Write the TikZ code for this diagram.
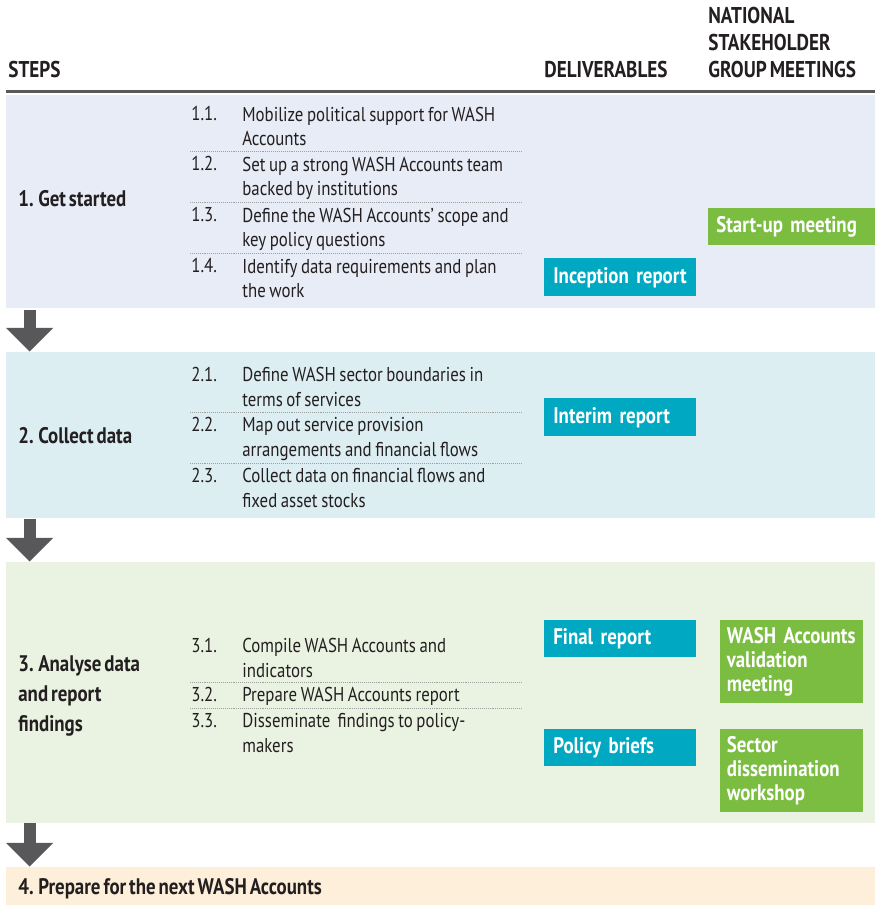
\documentclass[tikz,border=0pt]{standalone}
\usepackage{fontspec}
\setmainfont[FakeStretch=0.84, WordSpace=0.8, BoldFeatures={WordSpace=0.62}]{PT Sans}
\usepackage{xcolor}
\usetikzlibrary{arrows.meta, positioning, fit}

\definecolor{inkgray}{HTML}{231F20}
\definecolor{bandone}{HTML}{E8ECF6}
\definecolor{bandtwo}{HTML}{DDEEF2}
\definecolor{bandthree}{HTML}{EAF3E2}
\definecolor{bandfour}{HTML}{FDEFD9}
\definecolor{tealbox}{HTML}{00A9C1}
\definecolor{greenbox}{HTML}{7ABD40}
\definecolor{arrowgray}{HTML}{58585A}

\begin{document}
\begin{tikzpicture}[
  x=0.2mm, y=-0.2mm,
  font=\fontsize{11.4}{14.2}\selectfont,
  text=inkgray,
  band/.style   = {inner sep=0pt, draw=none},
  head/.style   = {anchor=base west, inner sep=0pt, align=left,
                   font=\fontsize{13}{15.4}\selectfont\bfseries},
  phase/.style  = {anchor=base west, inner sep=0pt, align=left,
                   font=\fontsize{12.8}{16.8}\selectfont\bfseries},
  num/.style    = {anchor=base west, inner sep=0pt},
  task/.style   = {anchor=base west, inner sep=0pt, align=left},
  deliv/.style  = {anchor=north west, fill=tealbox, text=white,
                   font=\fontsize{12.8}{13.7}\selectfont\bfseries,
                   inner xsep=1.8mm, inner ysep=0pt, align=left,
                   text width=26.8mm, minimum height=7.6mm},
  meet/.style   = {deliv, fill=greenbox},
  sep/.style    = {gray!75, line width=0.45pt, dash pattern=on 0.5pt off 0.6pt},
  down/.style   = {-{Triangle[width=26pt, length=13.5pt]}, line width=6.8pt,
                   arrowgray}
]
\useasboundingbox (0,0) rectangle (875,905);

% ---------- header ----------
% (base of a multi-line node = its last line)
\node[head] (hsteps) at (8,78)   {STEPS};
\node[head] (hdeliv) at (544,78) {DELIVERABLES};
\node[head] (hnsg)   at (708,78) {NATIONAL\\STAKEHOLDER\\GROUP MEETINGS};
\draw[black!65, line width=0.6mm] (6,92) -- (875,92);

% ---------- bands ----------
\node[band, fill=bandone,   fit={(6,95)(875,308)}]  (band1) {};
\node[band, fill=bandtwo,   fit={(6,352)(875,518)}] (band2) {};
\node[band, fill=bandthree, fit={(6,562)(875,823)}] (band3) {};
\node[band, fill=bandfour,  fit={(6,867)(875,905)}] (band4) {};

% ---------- steps ----------
\node[phase] (s1) at (18,207) {1. Get started};
\node[phase] (s2) at (18,443) {2. Collect data};
\node[phase] (s3) at (18,731) {3. Analyse data\\and report\\findings};
\node[phase] (s4) at (18,894) {4. Prepare for the next WASH Accounts};

% ---------- tasks ----------
\foreach \k/\n/\y/\z/\t in {
    a11/1.1./121/146/{Mobilize political support for WASH\\Accounts},
    a12/1.2./171/196/{Set up a strong WASH Accounts team\\backed by institutions},
    a13/1.3./222/247/{Define the WASH Accounts’ scope and\\key policy questions},
    a14/1.4./273/298/{Identify data requirements and plan\\the work},
    a21/2.1./381/406/{Define WASH sector boundaries in\\terms of services},
    a22/2.2./431/456/{Map out service provision\\arrangements and financial flows},
    a23/2.3./482/507/{Collect data on financial flows and\\fixed asset stocks},
    a31/3.1./652/677/{Compile WASH Accounts and\\indicators},
    a32/3.2./701/701/{Prepare WASH Accounts report},
    a33/3.3./727/752/{Disseminate\ \ findings to policy-\\makers}}
{
  \node[num]  (n\k) at (191,\y) {\n};
  \node[task] (\k)  at (242,\z) {\t};
}

\foreach \y in {151,202,253,412,463,682,708}
  \draw[sep] (190,\y) -- (522,\y);

% ---------- deliverables ----------
\node[deliv] (incep)   at (544,258) {Inception report};
\node[deliv] (interim) at (544,398) {Interim report};
\node[deliv, minimum height=7.4mm] (final)  at (544,620) {Final report};
\node[deliv, minimum height=7.4mm] (briefs) at (544,729) {Policy briefs};

% ---------- meetings ----------
\node[meet, text width=30.2mm, inner xsep=1.6mm, minimum height=7.4mm]
  (startup) at (708,208) {Start-up meeting};
\node[meet, text width=26mm, inner xsep=1.3mm, minimum height=16.6mm]
  (valid) at (720,620) {WASH Accounts\\validation\\meeting};
\node[meet, text width=26mm, inner xsep=1.3mm, minimum height=16.6mm]
  (workshop) at (720,729) {Sector\\dissemination\\workshop};

% ---------- flow arrows ----------
\draw[down] ([xshift=4.8mm, yshift=-0.4mm]band1.south west) -- ([xshift=4.8mm]band2.north west);
\draw[down] ([xshift=4.8mm, yshift=-0.2mm]band2.south west) -- ([xshift=4.8mm]band3.north west);
\draw[down] ([xshift=4.8mm]band3.south west) -- ([xshift=4.8mm]band4.north west);

\end{tikzpicture}
\end{document}
